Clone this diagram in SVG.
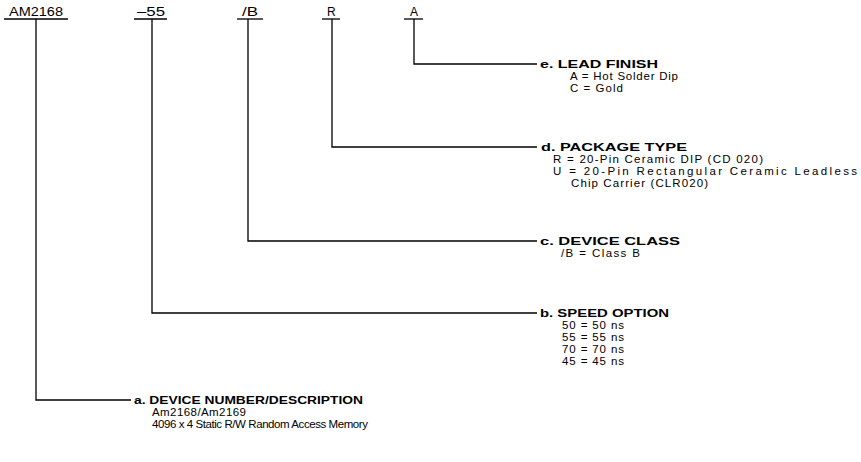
<svg xmlns="http://www.w3.org/2000/svg" width="861" height="462" viewBox="0 0 861 462">
<style>
text{font-family:"Liberation Sans",Arial,sans-serif;fill:#000;}
.code{font-size:12px;}
.hd{font-size:11.5px;font-weight:bold;}
.bd{font-size:11.5px;}
.ln{stroke:#000;stroke-width:1.3;fill:none;}
</style>
<rect width="861" height="462" fill="#fff"/>
<g id="connectors">
<path class="ln" d="M36 19 V400 H131"/>
<path class="ln" d="M152 19 V313 H537"/>
<path class="ln" d="M248 19 V241 H537"/>
<path class="ln" d="M332 19 V147 H537"/>
<path class="ln" d="M414 19 V64 H537"/>
</g>
<g id="code-parts">
<g id="part-am2168"><text class="code" x="9" y="16" textLength="54" lengthAdjust="spacingAndGlyphs">AM2168</text><line class="ln" x1="4" y1="19" x2="68" y2="19"/></g>
<g id="part-55"><text class="code" x="137" y="16" textLength="28" lengthAdjust="spacingAndGlyphs">–55</text><line class="ln" x1="134" y1="19" x2="167" y2="19"/></g>
<g id="part-b"><text class="code" x="242" y="16" textLength="16" lengthAdjust="spacingAndGlyphs">/B</text><line class="ln" x1="237" y1="19" x2="263" y2="19"/></g>
<g id="part-r"><text class="code" x="327" y="16">R</text><line class="ln" x1="322" y1="19" x2="340" y2="19"/></g>
<g id="part-a"><text class="code" x="410" y="16">A</text><line class="ln" x1="404" y1="19" x2="423" y2="19"/></g>
</g>
<g id="node-e">
<text class="hd" x="540" y="68" textLength="118" lengthAdjust="spacingAndGlyphs">e. LEAD FINISH</text>
<text class="bd" x="570" y="80" textLength="108" lengthAdjust="spacing">A = Hot Solder Dip</text>
<text class="bd" x="570" y="92" textLength="53" lengthAdjust="spacing">C = Gold</text>
</g>
<g id="node-d">
<text class="hd" x="541" y="151" textLength="146" lengthAdjust="spacingAndGlyphs">d. PACKAGE TYPE</text>
<text class="bd" x="553" y="163" textLength="210" lengthAdjust="spacing">R = 20-Pin Ceramic DIP (CD 020)</text>
<text class="bd" x="553" y="175" textLength="304" lengthAdjust="spacing">U = 20-Pin Rectangular Ceramic Leadless</text>
<text class="bd" x="571" y="187" textLength="137" lengthAdjust="spacing">Chip Carrier (CLR020)</text>
</g>
<g id="node-c">
<text class="hd" x="540" y="245" textLength="140" lengthAdjust="spacingAndGlyphs">c. DEVICE CLASS</text>
<text class="bd" x="561" y="257" textLength="79" lengthAdjust="spacing">/B = Class B</text>
</g>
<g id="node-b">
<text class="hd" x="540" y="317" textLength="129" lengthAdjust="spacingAndGlyphs">b. SPEED OPTION</text>
<text class="bd" x="562" y="329" textLength="62" lengthAdjust="spacing">50 = 50 ns</text>
<text class="bd" x="562" y="341" textLength="62" lengthAdjust="spacing">55 = 55 ns</text>
<text class="bd" x="562" y="353" textLength="62" lengthAdjust="spacing">70 = 70 ns</text>
<text class="bd" x="562" y="365" textLength="62" lengthAdjust="spacing">45 = 45 ns</text>
</g>
<g id="node-a">
<text class="hd" x="134" y="404" textLength="229" lengthAdjust="spacingAndGlyphs">a. DEVICE NUMBER/DESCRIPTION</text>
<text class="bd" x="152" y="416" textLength="94" lengthAdjust="spacing">Am2168/Am2169</text>
<text class="bd" x="152" y="428" textLength="216" lengthAdjust="spacing">4096 x 4 Static R/W Random Access Memory</text>
</g>
</svg>
